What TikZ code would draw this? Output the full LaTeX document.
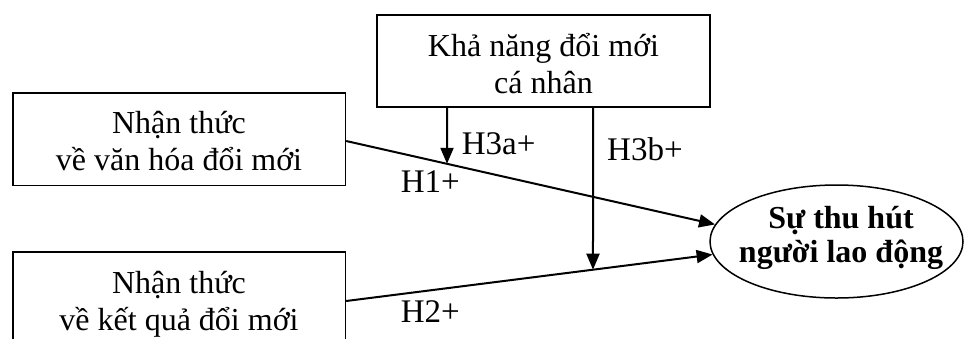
\documentclass[tikz,border=0pt]{standalone}
\usepackage{fontspec}
\setmainfont{Liberation Serif}
\usetikzlibrary{shapes.geometric,arrows.meta,calc}
\begin{document}
\begin{tikzpicture}[x=1pt,y=-1pt,
  boxstyle/.style={draw, line width=1.3pt, inner sep=0pt},
  txt/.style={anchor=base, inner sep=0pt, font=\fontsize{32}{37}\selectfont},
  btxt/.style={anchor=base, inner sep=0pt, font=\fontsize{32}{34}\selectfont\bfseries},
  conn/.style={line width=2pt, -{Triangle[length=16pt,width=13pt]}},
  lab/.style={anchor=base west, inner sep=0pt, font=\fontsize{33}{37}\selectfont}]
\useasboundingbox (0,0) rectangle (965,338);
\clip (0,0) rectangle (965,338);
% boxes
\node[boxstyle, minimum width=332.5pt, minimum height=92.5pt] (b1) at (179.25,139.25) {};
\node[boxstyle, minimum width=332.5pt, minimum height=92.5pt] (b2) at (179.25,298.25) {};
\node[boxstyle, minimum width=333pt, minimum height=92pt] (b3) at (543.5,61) {};
\node[draw, ellipse, line width=1.5pt, minimum width=253pt, minimum height=113pt, inner sep=0pt] (e) at (836.5,241.5) {};
% texts
\node[txt] (t1a) at (179,133) {Nhận thức};
\node[txt] (t1b) at (179,170) {về văn hóa đổi mới};
\node[txt] (t2a) at (179,293) {Nhận thức};
\node[txt] (t2b) at (179,330) {về kết quả đổi mới};
\node[txt] (t3a) at (543.5,56) {Khả năng đổi mới};
\node[txt] (t3b) at (543.5,93) {cá nhân};
\node[btxt] (tea) at (841,228) {Sự thu hút};
\node[btxt] (teb) at (841,262) {người lao động};
% connectors
\coordinate (p1) at ([yshift=-1.75pt]b1.east);
\coordinate (q1) at (e.172);
\coordinate (p2) at ([yshift=-2.75pt]b2.east);
\coordinate (q2) at (e.186);
\draw[conn] (p1) -- (q1);
\draw[conn] (p2) -- (q2);
\coordinate (x1) at (447,0);
\coordinate (x2) at (593,0);
\coordinate (v1) at (b3.south -| x1);
\coordinate (v2) at (b3.south -| x2);
\coordinate (m1) at (intersection of p1--q1 and v1--x1);
\coordinate (m2) at (intersection of p2--q2 and v2--x2);
\draw[conn] (v1) -- (m1);
\draw[conn] (v2) -- (m2);
% labels
\node[lab] (l3a) at (461.7,154) {H3a+};
\node[lab] (l3b) at (607,160) {H3b+};
\node[lab] (l1) at (400.7,192.7) {H1+};
\node[lab] (l2) at (400.7,322.7) {H2+};
\end{tikzpicture}
\end{document}
